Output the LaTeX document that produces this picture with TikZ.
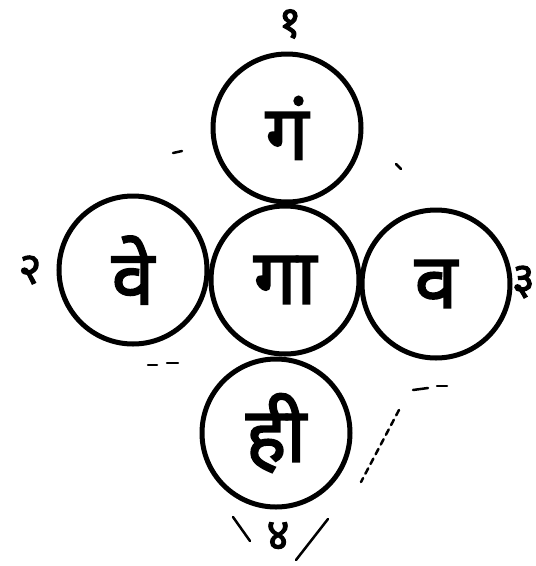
\documentclass[tikz,border=0pt]{standalone}
\usepackage{fontspec}
\newfontfamily\deva[Script=Devanagari,FakeBold=2.5]{Noto Sans}
\begin{document}
\begin{tikzpicture}[x=1pt,y=-1pt,
  ring/.style={circle,draw,line width=5pt,minimum size=148pt,inner sep=0pt,
    font=\deva\fontsize{76}{76}\selectfont},
  numlabel/.style={inner sep=0pt,font=\deva\fontsize{44}{44}\selectfont},
  stroke/.style={line width=2.5pt,line cap=round}]
\useasboundingbox (0,0) rectangle (536,566);
\node[ring] (top) at (287,128) {गं};
\node[ring] (left) at (133,270) {वे};
\node[ring] (mid) at (285,280) {गा};
\node[ring] (right) at (436,284) {व};
\node[ring] (bot) at (276,433) {ही};
\node[numlabel] (n1) at (290,24) {१};
\node[numlabel] (n2) at (30,270) {२};
\node[numlabel,anchor=east] (n3) at (535,282) {३};
\node[numlabel] (n4) at (278,536) {४};
% faint strokes
\draw[stroke] (233,517) -- (250,541);
\draw[stroke] (328,519) -- (296,560);
\draw[stroke,dash pattern=on 6pt off 5pt] (399,410) -- (361,482);
\draw[stroke] (173,153) -- (182,151);
\draw[stroke] (396,164) -- (401,169);
\draw[stroke] (148,365) -- (157,365);
\draw[stroke] (167,363) -- (178,363);
\draw[stroke] (413,390) -- (428,388);
\draw[stroke] (437,386) -- (447,386);
\end{tikzpicture}
\end{document}
